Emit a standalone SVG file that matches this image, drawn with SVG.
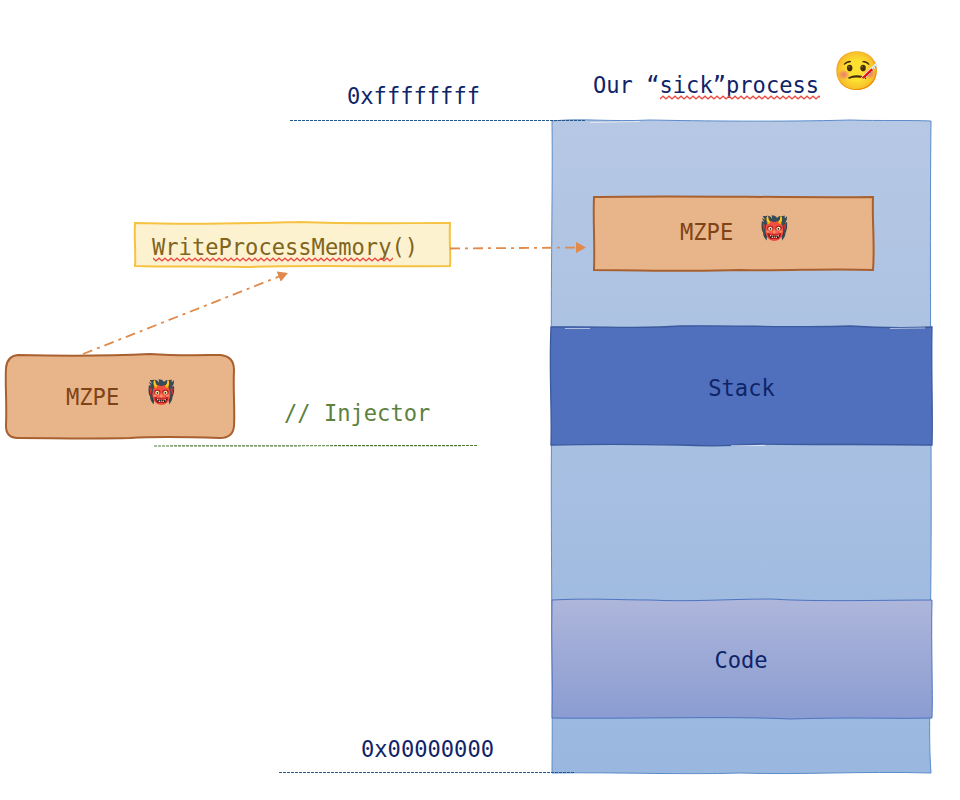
<svg xmlns="http://www.w3.org/2000/svg" width="960" height="800" viewBox="0 0 960 800">
<defs>
<linearGradient id="mem" x1="0" y1="0" x2="0" y2="1"><stop offset="0" stop-color="#b6c8e4"/><stop offset="1" stop-color="#99b7df"/></linearGradient>
<linearGradient id="code" x1="0" y1="0" x2="0" y2="1"><stop offset="0" stop-color="#aeb6db"/><stop offset="1" stop-color="#8a9cd1"/></linearGradient>
<marker id="ah" markerUnits="userSpaceOnUse" markerWidth="11" markerHeight="12" refX="10" refY="6" orient="auto"><path d="M0,0.500L10,6L0,11.500Z" fill="#e08a4c"/></marker>
<pattern id="sq" patternUnits="userSpaceOnUse" width="6" height="5"><path d="M-1,2.500L0,3.800L3,1.200L6,3.800L7,2.500" fill="none" stroke="#e8493f" stroke-width="1.300"/></pattern>
</defs>
<style>
text{font-family:"DejaVu Sans Mono","Liberation Mono",monospace;font-size:22.1px;fill:#0f2468}
.e{font-family:"Noto Color Emoji","Noto Sans",sans-serif;font-size:23px}
.flow{fill:none;stroke:#e08a4c;stroke-width:1.800;stroke-dasharray:10 5 3 5}
.orange{fill:#e8b48a;stroke:#a8602f;stroke-width:2}
.guide{fill:none;stroke-width:1.200;stroke-dasharray:3 1}
.blue{stroke:#5b8ccb;stroke-width:1}
.hi{fill:none;stroke:#ffffff;stroke-opacity:.55;stroke-width:1}
</style>
<g id="memory">
<path class="blue" fill="url(#mem)" d="M552,121C580,118 610,122 650,120C700,121 780,122 850,120C880,121 910,120 931,121C929,300 933,500 930,640C931,700 928,730 931,773C860,771 800,775 740,773C680,775 620,772 552,773C553,650 550,500 552,400C550,300 553,200 552,121Z"/>
<path class="hi" d="M590,122.500L640,121.500M549,140C550,200 548,260 550,320M933,460C934,540 932,620 934,700M590,775L720,774.500M780,775.500L880,775"/>
</g>
<g id="connectors">
<path class="guide" stroke="#24578a" d="M290,120.500L586,120.500"/>
<path class="guide" stroke="#4f7a3a" d="M154,446L478,445.500"/>
<path class="guide" stroke="#24578a" d="M279,772.500L575,772.500"/>
</g>
<g id="stack">
<path fill="#5070bd" stroke="#3b5a9e" stroke-width="1.300" d="M551,327C600,326 640,329 680,326C730,325 800,328 850,326C880,328 910,328 932,327C931,370 933,410 932,445C880,444 830,445 760,444C720,447 700,446 680,445C630,444 590,444 551,445C552,410 549,370 551,327Z"/>
<path class="hi" d="M565,328.500L590,328.500M890,328.500L925,328M731,445.500L765,445.500"/>
<text x="741.500" y="396" text-anchor="middle">Stack</text>
</g>
<g id="code-section">
<path fill="url(#code)" stroke="#4f74c0" stroke-width="1" d="M552,600C590,598 620,600 650,600C690,602 730,599 770,599C820,602 880,600 932,600C931,650 933,690 932,718C890,719 860,717 790,719C730,716 630,719 552,718C553,680 551,640 552,600Z"/>
<text x="741" y="668" text-anchor="middle">Code</text>
</g>
<g id="process-label">
<text x="593" y="93">Our “sick”process</text>
<rect x="660" y="95" width="160" height="5" fill="url(#sq)"/>
<text class="e" x="833" y="84" style="font-size:38px">🤒</text>
</g>
<g id="addr-high"><text x="347" y="104">0xffffffff</text></g>
<g id="addr-low"><text x="361" y="757">0x00000000</text></g>
<g id="injector-label"><text x="284" y="421" style="fill:#5d8140">// Injector</text></g>
<g id="mzpe-target">
<path class="orange" d="M594,197C680,195 780,198 873,197C872,220 875,245 873,270C830,268 790,271 740,270C690,272 640,270 594,270C595,245 593,220 594,197Z"/>
<text x="680" y="240" style="fill:#7f4317">MZPE</text>
<text class="e" x="760" y="236">👹</text>
</g>
<g id="write-call">
<path fill="#fdf2d0" stroke="#f5c242" stroke-width="2" d="M135,223C200,225 260,223 300,222C350,224 400,223 450,223C449,240 451,255 450,266C380,267 300,265 250,267C210,266 170,267 135,266C136,250 134,240 135,223Z"/>
<text x="152" y="255" style="fill:#7f6520">WriteProcessMemory()</text>
<rect x="153" y="255" width="240" height="5" fill="url(#sq)" transform="translate(0,2)"/>
</g>
<g id="mzpe-source">
<path class="orange" d="M18,355C60,356 110,356 150,354C180,356 205,355 220,355Q234,356 234,370C233,390 235,410 234,426Q233,438 220,438C190,437 160,436 130,438C90,439 50,438 18,438Q6,438 6,426C7,400 5,385 6,368Q7,356 18,355Z"/>
<text x="66" y="405" style="fill:#7f4317">MZPE</text>
<text class="e" x="147" y="400">👹</text>
</g>
<g id="flows">
<path class="flow" d="M450,248.500L586,247.500" marker-end="url(#ah)"/>
<path class="flow" d="M83,354L288,273" marker-end="url(#ah)"/>
</g>
</svg>
